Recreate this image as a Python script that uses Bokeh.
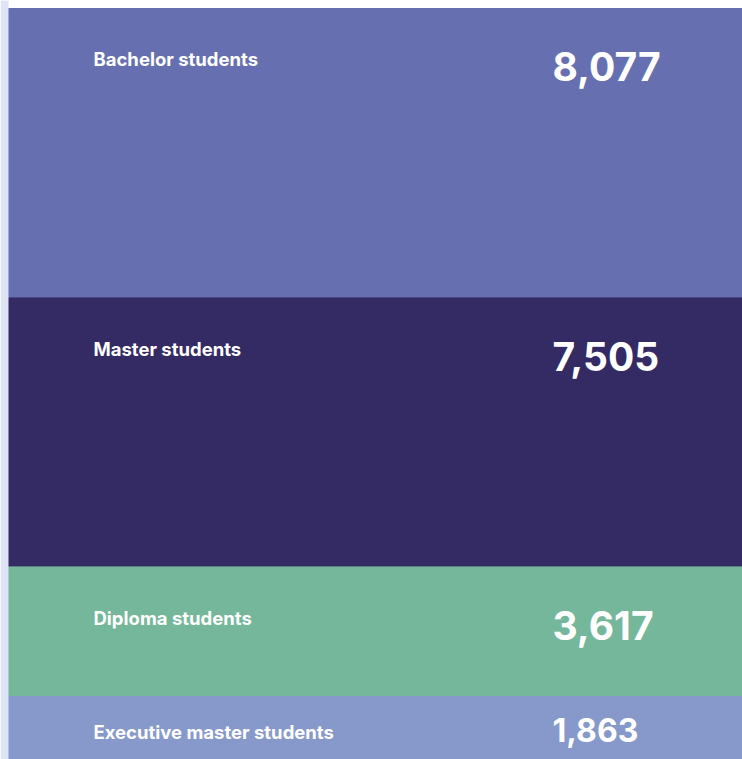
from bokeh.plotting import figure
from bokeh.models import Range1d, ColumnDataSource
from bokeh.core.properties import value
from bokeh.embed import file_html
from bokeh.resources import INLINE
import numpy as np

categories = ["Bachelor students", "Master students", "Diploma students", "Executive master students"]
counts = [8077, 7505, 3617, 1863]
colors = ["#6670B0", "#342A64", "#75B79B", "#8799CA"]

W, H = 742, 759
TOP_PX = 8
LEFT_PX = 8
LABEL_FS = 18.5
# units per pixel (blocks 1-3 span 8..696 px)
upp = sum(counts[:3]) / (696 - TOP_PX)
y_end = -TOP_PX * upp
y_start = (H - TOP_PX) * upp

p = figure(width=W, height=H, output_backend="svg", toolbar_location=None,
           x_range=Range1d(0, W), y_range=Range1d(y_start, y_end),
           x_axis_location=None, y_axis_location=None, min_border=0,
           outline_line_color=None, background_fill_color="white",
           border_fill_color="white")
p.grid.visible = False

cum = np.cumsum([0] + counts)
tops = cum[:-1]
bottoms = cum[1:]
src = ColumnDataSource(dict(top=tops, bottom=bottoms, left=[LEFT_PX] * 4, right=[W] * 4,
                            color=colors, label=categories,
                            val=[f"{c:,}" for c in counts]))
p.quad(left="left", right="right", top="top", bottom="bottom", fill_color="color",
       line_color="color", line_width=1, source=src)
# left light strip
p.quad(left=[0], right=[LEFT_PX], top=[y_end], bottom=[y_start], fill_color="#DCE4F5", line_color=None)

label_y, value_y, vfs = [], [], []
for t, c in zip(tops, counts):
    h_px = c / upp
    if h_px > 100:
        lb, vb, fs = 57.5, 70, 39
    else:
        lb, vb, fs = 42, 43, 32
    label_y.append(t + (lb - 0.37 * LABEL_FS) * upp)
    value_y.append(t + (vb - 0.3 * fs) * upp)
    vfs.append(f"{fs}px")
src.data["ly"] = label_y
src.data["vy"] = value_y
src.data["vfs"] = vfs
src.data["lx"] = [93] * 4
src.data["vx"] = [552] * 4

p.text(x="lx", y="ly", text="label", source=src, text_color="white",
       text_font=value("Inter"), text_font_style="bold", text_font_size=f"{LABEL_FS}px",
       text_baseline="alphabetic", text_align="left")
p.text(x="vx", y="vy", text="val", source=src, text_color="white",
       text_font=value("Inter"), text_font_style="bold", text_font_size="vfs",
       text_baseline="alphabetic", text_align="left")

open("out.html", "w").write(file_html(p, INLINE))
